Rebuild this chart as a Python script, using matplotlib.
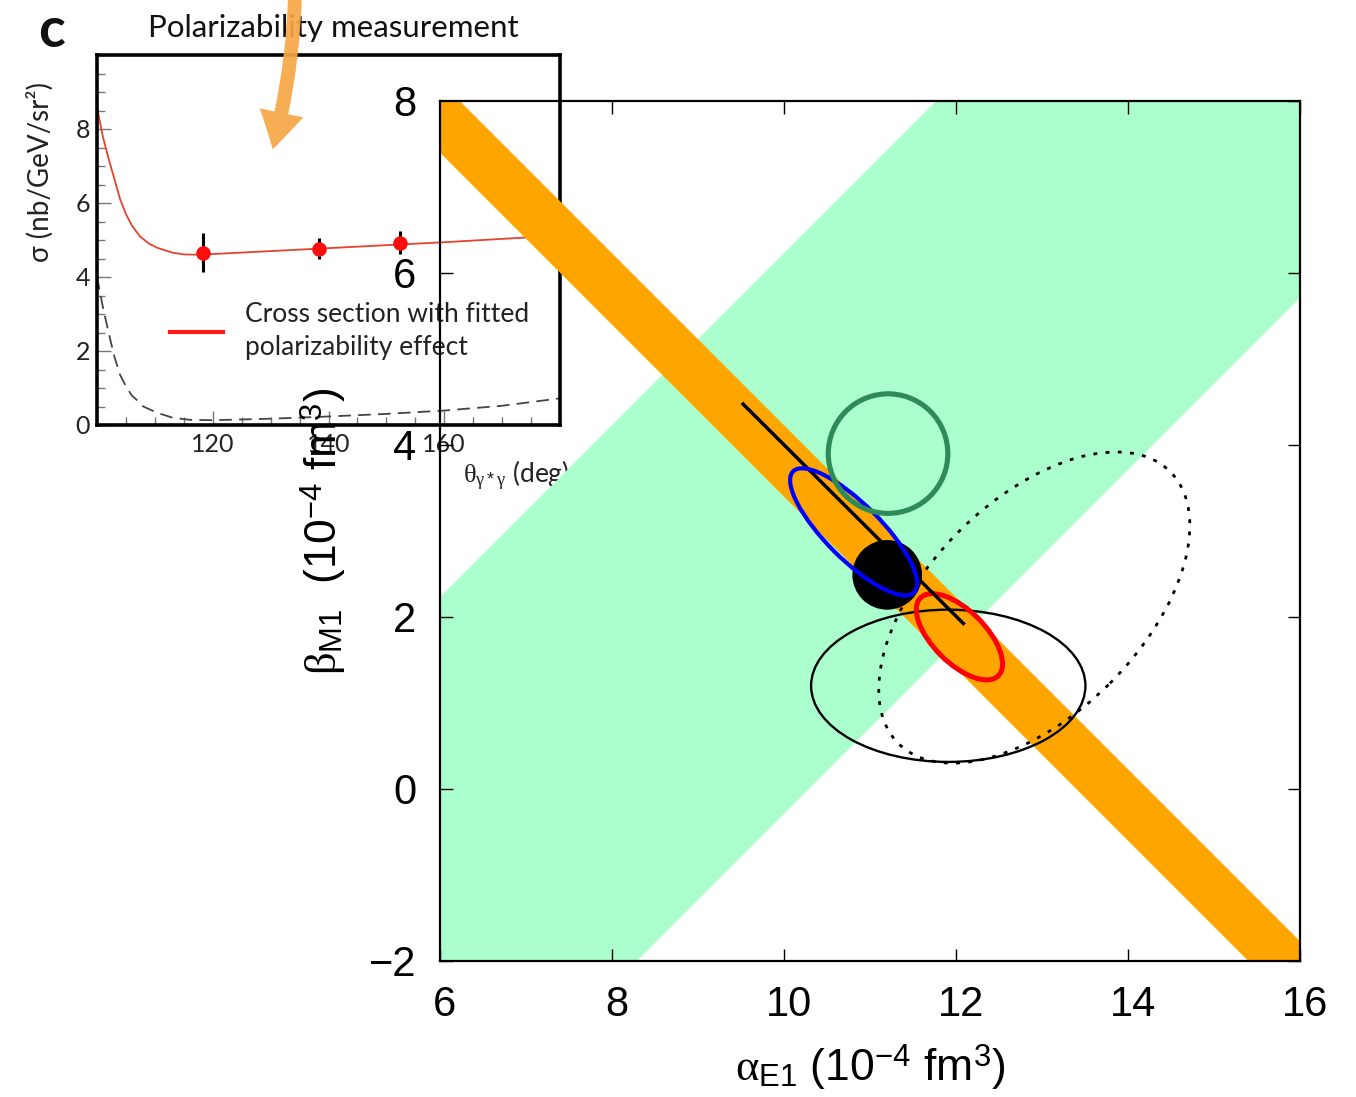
import numpy as np
import matplotlib
matplotlib.use('Agg')
import matplotlib.pyplot as plt
import matplotlib.transforms as mtransforms
from matplotlib.patches import Ellipse, FancyArrowPatch
from matplotlib.lines import Line2D
from matplotlib.ticker import MultipleLocator

plt.rcParams['font.family'] = ['Liberation Sans', 'DejaVu Sans']
plt.rcParams['mathtext.fontset'] = 'custom'
plt.rcParams['mathtext.rm'] = 'Liberation Sans'
plt.rcParams['mathtext.it'] = 'Liberation Serif'
plt.rcParams['mathtext.bf'] = 'Liberation Sans:bold'

# ---------------- main panel data ----------------
x_ticks = [6, 8, 10, 12, 14, 16]
y_ticks = [-2, 0, 2, 4, 6, 8]
# green band: beta = alpha + offset
green_offset_lo = -10.29
green_offset_hi = -3.77
# orange band: alpha + beta = const
orange_sum_lo = 13.40
orange_sum_hi = 14.23
band_alpha_range = [5.0, 17.0]

# ellipses: solid black, dotted black, red, blue
ell_alpha = [11.91, 12.91, 12.04, 10.81]
ell_beta = [1.20, 2.11, 1.77, 2.99]
ell_width = [3.19, 4.47, 1.28, 1.99]
ell_height = [1.77, 2.49, 0.61, 0.64]
ell_angle = [0, 45, -45, -45]

# green circle
circ_alpha = 11.21
circ_beta = 3.90
circ_diam = 1.39

# black dot
dot_alpha = 11.20
dot_beta = 2.49
dot_diam = 0.81

# black line
line_alpha = [9.51, 12.10]
line_beta = [4.49, 1.91]

# ---------------- inset data ----------------
theta_fit = [100, 101, 102, 103, 104, 105, 106, 107.4, 109, 110.4, 113, 115, 118,
             120, 125, 130, 140, 150, 160, 170, 180]
sigma_fit = [8.6, 7.8, 7.2, 6.65, 6.1, 5.7, 5.4, 5.1, 4.9, 4.79, 4.66, 4.61, 4.6,
             4.62, 4.66, 4.7, 4.78, 4.86, 4.94, 5.03, 5.12]
theta_dash = [100, 101, 102, 103, 104, 105, 106, 107.4, 108, 110.4, 113, 116, 120, 130,
              140, 150, 160, 170, 180]
sigma_dash = [4.0, 3.2, 2.5, 1.85, 1.35, 1.05, 0.8, 0.6, 0.5, 0.33, 0.2, 0.14, 0.13,
              0.17, 0.23, 0.30, 0.39, 0.52, 0.72]
theta_pts = [118.4, 138.3, 152.3]
sigma_pts = [4.66, 4.77, 4.93]
sigma_err = [0.52, 0.28, 0.30]
inset_xticks = [120, 140, 160]
inset_yticks = [0, 2, 4, 6, 8]

W, H = 1356, 1097
fig = plt.figure(figsize=(W / 100, H / 100), dpi=100)
fig.patch.set_facecolor('white')

# ---------------- inset ----------------
ax_in = fig.add_axes([97 / W, 1 - 425 / H, 463 / W, 370 / H], zorder=1)
ax_in.set_facecolor('white')
ax_in.set_xlim(100, 180)
ax_in.set_ylim(0, 10)
ax_in.plot(theta_fit, sigma_fit, color='#e4432e', lw=1.3, zorder=2)
ax_in.plot(theta_dash, sigma_dash, color='#444444', lw=1.3, dashes=(7, 4), zorder=2)
ax_in.errorbar(theta_pts, sigma_pts, yerr=sigma_err, fmt='none', ecolor='black',
               elinewidth=2.2, capsize=0, zorder=3)
ax_in.plot(theta_pts, sigma_pts, 'o', color='#ff0d0d', ms=10.5, mec='none', zorder=4)
ax_in.set_xticks(inset_xticks)
ax_in.set_yticks(inset_yticks)
ax_in.xaxis.set_minor_locator(MultipleLocator(5))
ax_in.yaxis.set_minor_locator(MultipleLocator(0.5))
ax_in.tick_params(which='both', direction='in', color='#777777', width=1,
                  labelsize=18, labelcolor='#222222')
ax_in.tick_params(which='major', length=10)
ax_in.tick_params(which='minor', length=6)
ax_in.tick_params(axis='x', pad=6)
ax_in.tick_params(axis='y', pad=5)
for lab in ax_in.get_xticklabels() + ax_in.get_yticklabels():
    lab.set_family(['Lato', 'DejaVu Sans'])
for sp in ax_in.spines.values():
    sp.set_linewidth(2.6)
    sp.set_color('black')

handle = Line2D([], [], color='#ff1a1a', lw=3)
leg = ax_in.legend([handle], ['Cross section with fitted\npolarizability effect'],
                   loc='center left', bbox_to_anchor=((170 - 97) / 463, (425 - 331) / 370),
                   frameon=False, borderpad=0, borderaxespad=0, handlelength=2.0,
                   handletextpad=0.85,
                   prop={'family': ['Lato', 'DejaVu Sans'], 'size': 19})
for t in leg.get_texts():
    t.set_color('#222222')
    t.set_linespacing(1.4)

ax_in.text(40 / W, 1 - 172 / H, 'σ (nb/GeV/sr²)', transform=fig.transFigure,
           rotation=90, ha='center', va='center', fontsize=20,
           family=['Lato', 'DejaVu Sans'], color='#222222', clip_on=False)
ax_in.text(463 / W, 1 - 476 / H, r'$\theta_{\gamma * \gamma}$ (deg)', transform=fig.transFigure,
           ha='left', va='center', fontsize=19, family=['Lato', 'DejaVu Sans'],
           color='#222222', clip_on=False)

# ---------------- main panel ----------------
ax = fig.add_axes([440 / W, 1 - 961 / H, 860 / W, 860 / H], zorder=2)
ax.set_facecolor('none')
ax.set_xlim(6, 16)
ax.set_ylim(-2, 8)

a = np.array(band_alpha_range)
ax.fill_between(a, a + green_offset_lo, a + green_offset_hi, color='#aaffcc', lw=0, zorder=1)
ax.fill_between(a, orange_sum_lo - a, orange_sum_hi - a, color='#ffa500', lw=0, zorder=2)

ax.add_patch(Ellipse((ell_alpha[0], ell_beta[0]), ell_width[0], ell_height[0], angle=ell_angle[0],
                     fill=False, ec='black', lw=1.7, zorder=3))
ax.add_patch(Ellipse((ell_alpha[1], ell_beta[1]), ell_width[1], ell_height[1], angle=ell_angle[1],
                     fill=False, ec='black', lw=2.0, linestyle=(0, (1.4, 3.0)), zorder=3))
ax.add_patch(Ellipse((ell_alpha[2], ell_beta[2]), ell_width[2], ell_height[2], angle=ell_angle[2],
                     fill=False, ec='#ff0000', lw=3.6, zorder=4))
ax.plot(line_alpha, line_beta, color='black', lw=2.5, zorder=5, solid_capstyle='butt')
ax.add_patch(Ellipse((dot_alpha, dot_beta), dot_diam, dot_diam, fc='black', ec='none', zorder=6))
ax.add_patch(Ellipse((ell_alpha[3], ell_beta[3]), ell_width[3], ell_height[3], angle=ell_angle[3],
                     fill=False, ec='#0000ff', lw=3.0, zorder=7))
ax.add_patch(Ellipse((circ_alpha, circ_beta), circ_diam, circ_diam, fill=False,
                     ec='#2e8b57', lw=3.7, zorder=8))

ax.set_xticks(x_ticks)
ax.set_yticks(y_ticks)
ax.tick_params(direction='in', length=9, width=1, top=True, right=True,
               labelsize=30, pad=17)
shift = mtransforms.ScaledTranslation(5 / 100, 0, fig.dpi_scale_trans)
for lab in ax.get_xticklabels():
    lab.set_transform(lab.get_transform() + shift)
for sp in ax.spines.values():
    sp.set_linewidth(1.6)
ax.set_xlabel(r'$\alpha_{\rm E1}$ (10$^{-4}$ fm$^{3}$)', fontsize=32, labelpad=13)
ax.set_ylabel(r'$\beta_{\rm M1}$  (10$^{-4}$ fm$^{3}$)', fontsize=32, labelpad=15)

# ---------------- annotations ----------------
fig.text(333 / W, 1 - 28 / H, 'Polarizability measurement', ha='center', va='center',
         fontsize=22.5, family=['Lato', 'DejaVu Sans'], color='#111111', zorder=5)
fig.text(51 / W, 1 - 31 / H, 'c', ha='center', va='center', fontsize=40,
         fontweight='bold', family=['Lato', 'DejaVu Sans'], color='#111111', zorder=5)

arrow = FancyArrowPatch((295 / W, 1 + 5 / H), (272 / W, 1 - 152 / H),
                        transform=fig.transFigure,
                        arrowstyle='simple,head_width=32,head_length=27,tail_width=10',
                        mutation_scale=1, connectionstyle='arc3,rad=-0.06',
                        color='#f6a645', alpha=0.92, lw=0, zorder=6)
fig.patches.append(arrow)

fig.savefig('out.png', dpi=100)
